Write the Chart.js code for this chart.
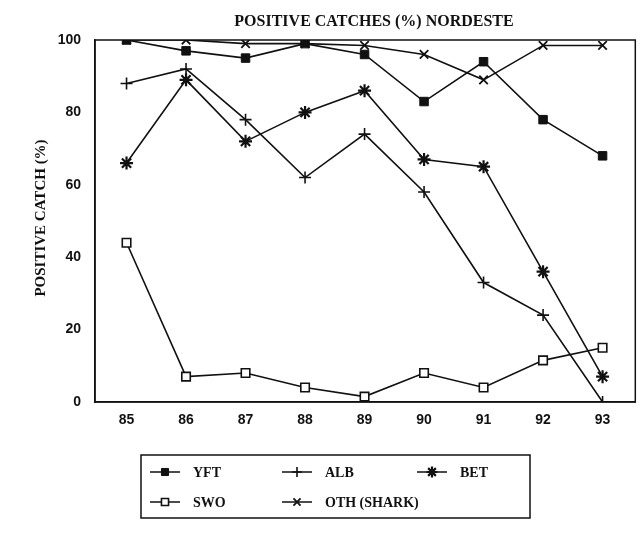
<!DOCTYPE html>
<html>
<head>
<meta charset="utf-8">
<script src="https://cdn.jsdelivr.net/npm/chart.js@4/dist/chart.umd.min.js"></script>
<style>
  html, body { margin: 0; padding: 0; background: #fff; }
  #wrap { width: 644px; height: 533px; position: relative; }
</style>
</head>
<body>
<div id="wrap"><canvas id="chart" width="644" height="533"></canvas></div>
<script>
  // ── Data ────────────────────────────────────────────
  var years = [85, 86, 87, 88, 89, 90, 91, 92, 93];
  var yft   = [100, 97, 95, 99, 96, 83, 94, 78, 68];
  var alb   = [88, 92, 78, 62, 74, 58, 33, 24, 0];
  var bet   = [66, 89, 72, 80, 86, 67, 65, 36, 7];
  var swo   = [44, 7, 8, 4, 1.5, 8, 4, 11.5, 15];
  var oth   = [100, 100, 99, 99, 98.5, 96, 89, 98.5, 98.5];

  var yTicks = [0, 20, 40, 60, 80, 100];

  var INK = '#111';

  function pts(vals) {
    return vals.map(function (v, i) { return { x: years[i], y: v }; });
  }

  function series(label, vals, style, fill, radius, bw) {
    return {
      label: label,
      data: pts(vals),
      borderColor: INK,
      borderWidth: 1.6,
      pointStyle: style,
      pointRadius: radius,
      pointBorderColor: INK,
      pointBorderWidth: bw,
      pointBackgroundColor: fill,
      tension: 0
    };
  }

  var datasets = [
    series('YFT', yft, 'rect', INK, 6, 1),
    series('ALB', alb, 'cross', INK, 6, 1.6),
    series('BET', bet, 'star', INK, 6.5, 2.2),
    series('SWO', swo, 'rect', '#fff', 6, 1.6),
    series('OTH (SHARK)', oth, 'crossRot', INK, 6, 1.8)
  ];

  // ── Title, axis title, frame and legend box ─────────
  var decor = {
    id: 'decor',
    afterDraw: function (chart) {
      var c = chart.ctx, a = chart.chartArea;
      c.save();
      c.strokeStyle = INK;
      c.lineWidth = 1.5;
      c.strokeRect(a.left, a.top, a.right - a.left, a.bottom - a.top);

      c.fillStyle = INK;
      c.textAlign = 'center';
      c.textBaseline = 'middle';
      c.font = 'bold 16px "Liberation Serif", serif';
      c.fillText('POSITIVE CATCHES (%) NORDESTE', 374, 22);

      c.save();
      c.translate(41, 218);
      c.rotate(-Math.PI / 2);
      c.font = 'bold 15px "Liberation Serif", serif';
      c.fillText('POSITIVE CATCH (%)', 0, 0);
      c.restore();

      // legend box
      c.lineWidth = 1.5;
      c.strokeRect(141, 455, 389, 63);
      var slots = [
        [150, 472], [282, 472], [417, 472],
        [150, 502], [282, 502]
      ];
      c.textAlign = 'left';
      c.font = 'bold 14px "Liberation Serif", serif';
      chart.data.datasets.forEach(function (ds, i) {
        var s = slots[i];
        c.lineWidth = 1.5;
        c.beginPath();
        c.moveTo(s[0], s[1]);
        c.lineTo(s[0] + 30, s[1]);
        c.stroke();
        c.fillStyle = ds.pointBackgroundColor;
        c.lineWidth = ds.pointBorderWidth;
        Chart.helpers.drawPoint(c, {
          pointStyle: ds.pointStyle,
          radius: ds.pointRadius - 1,
          borderWidth: ds.pointBorderWidth,
          rotation: 0
        }, s[0] + 15, s[1]);
        c.fillStyle = INK;
        c.fillText(ds.label, s[0] + 43, s[1] + 1);
      });
      c.restore();
    }
  };

  new Chart(document.getElementById('chart'), {
    type: 'line',
    data: { datasets: datasets },
    plugins: [decor],
    options: {
      responsive: false,
      animation: false,
      layout: { padding: { left: 0, right: 0, top: 40, bottom: 0 } },
      plugins: { legend: { display: false }, tooltip: { enabled: false } },
      scales: {
        x: {
          type: 'linear',
          min: 84.47,
          max: 93.55,
          afterFit: function (s) { s.height = 131; },
          afterBuildTicks: function (s) {
            s.ticks = years.map(function (v) { return { value: v }; });
          },
          grid: { display: false, drawTicks: true, tickLength: 6, tickColor: INK },
          border: { display: true, color: INK, width: 1.5 },
          ticks: {
            color: INK,
            padding: 4,
            font: { family: 'Arial, "Liberation Sans", sans-serif', size: 14, weight: 'bold' }
          }
        },
        y: {
          min: 0,
          max: 100,
          afterFit: function (s) { s.width = 95; },
          afterBuildTicks: function (s) {
            s.ticks = yTicks.map(function (v) { return { value: v }; });
          },
          grid: { display: false, drawTicks: true, tickLength: 6, tickColor: INK },
          border: { display: true, color: INK, width: 1.5 },
          ticks: {
            color: INK,
            padding: 8,
            font: { family: 'Arial, "Liberation Sans", sans-serif', size: 14, weight: 'bold' }
          }
        }
      }
    }
  });
</script>
</body>
</html>
